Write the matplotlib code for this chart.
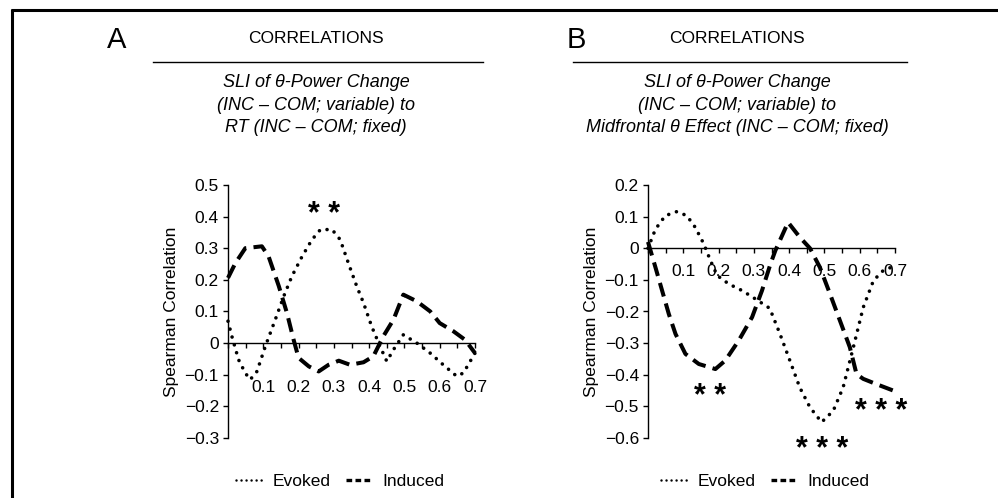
import matplotlib
matplotlib.use("Agg")
import matplotlib.pyplot as plt
from matplotlib.lines import Line2D
import numpy as np

plt.rcParams['font.family'] = ['Liberation Sans', 'DejaVu Sans']

# ---------------- data ----------------
a_evoked_x = [0.000, 0.011, 0.030, 0.049, 0.063, 0.082, 0.106, 0.134, 0.158, 0.181, 0.210, 0.238,
              0.262, 0.295, 0.318, 0.342, 0.365, 0.384, 0.407, 0.431, 0.450, 0.469, 0.497, 0.535,
              0.573, 0.610, 0.648, 0.667, 0.700]
a_evoked_y = [0.069, 0.021, -0.053, -0.095, -0.116, -0.090, -0.010, 0.074, 0.148, 0.211, 0.274, 0.327,
              0.359, 0.359, 0.327, 0.250, 0.179, 0.127, 0.053, -0.011, -0.058, -0.021, 0.026, 0.000,
              -0.032, -0.069, -0.105, -0.095, -0.032]

a_induced_x = [0.000, 0.021, 0.049, 0.096, 0.115, 0.144, 0.167, 0.186, 0.200, 0.229, 0.257, 0.285,
               0.314, 0.346, 0.384, 0.412, 0.440, 0.469, 0.497, 0.535, 0.573, 0.600, 0.639, 0.672, 0.700]
a_induced_y = [0.206, 0.253, 0.300, 0.306, 0.274, 0.180, 0.095, 0.010, -0.047, -0.074, -0.090, -0.069,
               -0.056, -0.069, -0.061, -0.042, 0.021, 0.074, 0.153, 0.132, 0.100, 0.063, 0.037, 0.010, -0.032]

b_evoked_x = [0.000, 0.021, 0.049, 0.082, 0.110, 0.134, 0.158, 0.177, 0.196, 0.229, 0.267, 0.304,
              0.345, 0.374, 0.402, 0.430, 0.459, 0.492, 0.525, 0.553, 0.582, 0.610, 0.639, 0.667, 0.690]
b_evoked_y = [0.000, 0.060, 0.103, 0.116, 0.103, 0.066, 0.014, -0.039, -0.086, -0.113, -0.134, -0.160,
              -0.190, -0.271, -0.355, -0.440, -0.503, -0.550, -0.514, -0.440, -0.313, -0.187, -0.102,
              -0.070, -0.060]

b_induced_x = [0.000, 0.021, 0.040, 0.059, 0.078, 0.106, 0.144, 0.191, 0.219, 0.257, 0.295, 0.323,
               0.347, 0.361, 0.397, 0.430, 0.459, 0.487, 0.516, 0.544, 0.572, 0.591, 0.610, 0.648, 0.695]
b_induced_y = [0.020, -0.060, -0.134, -0.208, -0.271, -0.334, -0.366, -0.382, -0.355, -0.292, -0.218,
               -0.134, -0.050, -0.007, 0.082, 0.035, 0.000, -0.060, -0.145, -0.229, -0.313, -0.398,
               -0.413, -0.430, -0.450]

x_ticks = [0.1, 0.2, 0.3, 0.4, 0.5, 0.6, 0.7]
x_tick_labels = ["0.1", "0.2", "0.3", "0.4", "0.5", "0.6", "0.7"]
a_yticks = [-0.3, -0.2, -0.1, 0.0, 0.1, 0.2, 0.3, 0.4, 0.5]
b_yticks = [-0.6, -0.5, -0.4, -0.3, -0.2, -0.1, 0.0, 0.1, 0.2]

series_names = ["Evoked", "Induced"]
panel_letters = ["A", "B"]
header = "CORRELATIONS"
a_title = ["SLI of \u03b8-Power Change", "(INC \u2013 COM; variable) to", "RT (INC \u2013 COM; fixed)"]
b_title = ["SLI of \u03b8-Power Change", "(INC \u2013 COM; variable) to",
           "Midfrontal \u03b8 Effect (INC \u2013 COM; fixed)"]
ylabel = "Spearman Correlation"

# significance markers: (x, y, text)
a_stars = [(0.272, 0.405, "* *")]
b_stars = [(0.176, -0.47, "* *"), (0.66, -0.517, "* * *"), (0.493, -0.637, "* * *")]

# ---------------- figure ----------------
W, H = 998, 498
fig = plt.figure(figsize=(W / 100, H / 100), dpi=100)

def fx(px):
    return px / W

def fy(py):
    return 1 - py / H

FS = 12.5
DOT = dict(color='black', lw=2.6, linestyle=(0, (0.01, 2.25)), dash_capstyle='round', solid_capstyle='round')
DASH = dict(color='black', lw=2.9, linestyle=(0, (3.5, 1.8)), dash_capstyle='butt')

def make_axes(left, top, bottom, ylim, yticks, pad):
    ax = fig.add_axes([fx(left), fy(bottom), fx(247), (bottom - top) / H])
    ax.set_xlim(0, 0.7)
    ax.set_ylim(*ylim)
    for s in ['top', 'right']:
        ax.spines[s].set_visible(False)
    ax.spines['bottom'].set_position(('data', 0))
    ax.spines['left'].set_linewidth(1.0)
    ax.spines['bottom'].set_linewidth(1.0)
    ax.set_xticks(x_ticks)
    ax.set_xticklabels(x_tick_labels)
    ax.set_xticks(np.arange(0, 0.71, 0.05), minor=True)
    ax.set_yticks(yticks)
    ax.set_yticklabels([("0" if abs(v) < 1e-9 else f"{v:.1f}".replace("-", "\u2212")) for v in yticks])
    ax.tick_params(axis='x', which='both', direction='out', length=3.5, width=1.0, pad=pad, labelsize=FS)
    ax.tick_params(axis='y', direction='out', length=3.5, width=1.0, pad=3, labelsize=FS)
    ax.set_ylabel(ylabel, fontsize=FS, labelpad=4)
    ax.patch.set_alpha(0)
    return ax

axA = make_axes(228, 185, 437.8, (-0.3, 0.5), a_yticks, 23)
axB = make_axes(648, 185, 438, (-0.6, 0.2), b_yticks, 8)

for ax, ex, ey, ix, iy, stars in [(axA, a_evoked_x, a_evoked_y, a_induced_x, a_induced_y, a_stars),
                                   (axB, b_evoked_x, b_evoked_y, b_induced_x, b_induced_y, b_stars)]:
    ax.plot(ex, ey, clip_on=False, **DOT)
    ax.plot(ix, iy, clip_on=False, **DASH)
    for (sx, sy, st) in stars:
        ax.text(sx, sy, st, ha='center', va='center', fontsize=22, fontweight='bold')

# legends
for cx in [340, 765]:
    h1 = Line2D([], [], color='black', lw=1.8, linestyle=(0, (0.01, 2.0)), dash_capstyle='round')
    h2 = Line2D([], [], color='black', lw=2.4, linestyle=(0, (1.7, 1.0)))
    fig.legend([h1, h2], series_names, loc='center', bbox_to_anchor=(fx(cx), fy(481)),
               ncol=2, frameon=False, fontsize=FS, handlelength=1.5, handletextpad=0.6,
               columnspacing=0.9, borderaxespad=0, borderpad=0)

# headers
for letter, lx in zip(panel_letters, [117, 576]):
    fig.text(fx(lx), fy(40), letter, fontsize=21, ha='center', va='center')

for cx, l0, l1, title in [(316, 153, 483, a_title), (737, 573, 907, b_title)]:
    fig.text(fx(cx), fy(38), header, fontsize=FS, ha='center', va='center')
    fig.add_artist(Line2D([fx(l0), fx(l1)], [fy(62), fy(62)], color='black', lw=1.0,
                          transform=fig.transFigure))
    for i, line in enumerate(title):
        fig.text(fx(cx), fy(82 + 23 * i), line, fontsize=13, style='italic', ha='center', va='center')

# frame (top and left)
fig.add_artist(Line2D([fx(11), fx(998)], [fy(10), fy(10)], color='black', lw=2.2,
                      transform=fig.transFigure, solid_capstyle='butt'))
fig.add_artist(Line2D([fx(12), fx(12)], [fy(9), fy(498)], color='black', lw=2.2,
                      transform=fig.transFigure, solid_capstyle='butt'))

fig.savefig("out.png", dpi=100)
